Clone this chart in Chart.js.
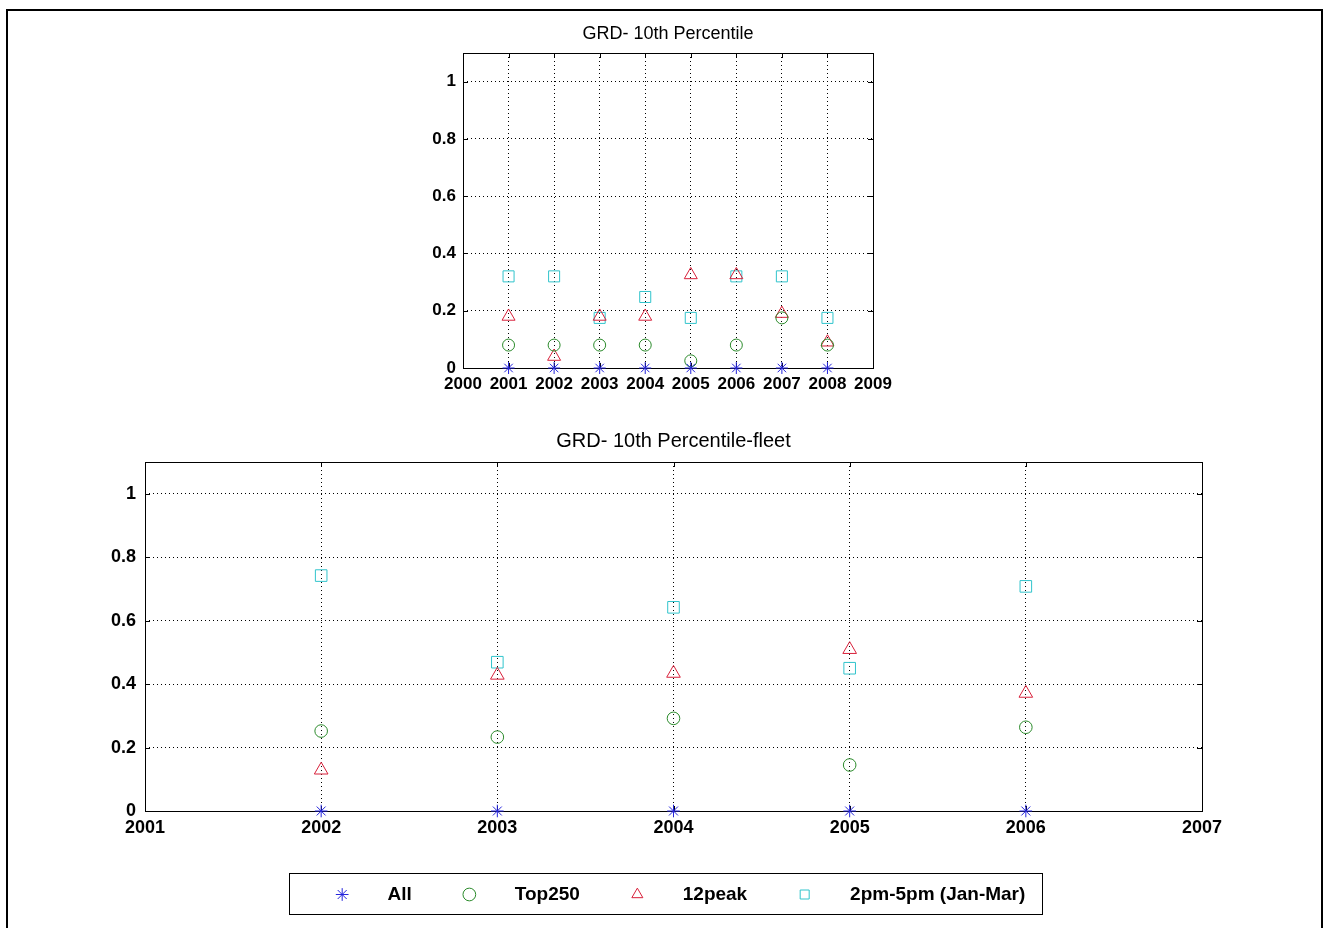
<!DOCTYPE html>
<html>
<head>
<meta charset="utf-8">
<title>GRD- 10th Percentile</title>
<script src="https://cdn.jsdelivr.net/npm/chart.js@4.4.1/dist/chart.umd.min.js"></script>
<style>
  html, body { margin: 0; background: #fff; overflow: hidden; }
  .box { position: absolute; }
  #frame { left: 6px; top: 9px; width: 1313px; height: 940px; border: 2px solid #000; border-bottom: none; }
  #topBox { left: 380px; top: 15px; width: 560px; height: 390px; }
  #fleetBox { left: 20px; top: 420px; width: 1292px; height: 421px; }
  #legendFrame { left: 289px; top: 873px; width: 752px; height: 40px; border: 1px solid #000; }
  #legendBox { left: 279px; top: 837px; width: 800px; height: 200px; }
</style>
</head>
<body>
<div id="frame" class="box"></div>
<div id="topBox" class="box"><canvas id="topChart"></canvas></div>
<div id="fleetBox" class="box"><canvas id="fleetChart"></canvas></div>
<div id="legendFrame" class="box"></div>
<div id="legendBox" class="box"><canvas id="legendChart"></canvas></div>
<script>
// series shared by both panels
const seriesNames = ['All', 'Top250', '12peak', '2pm-5pm (Jan-Mar)'];

// top panel: GRD- 10th Percentile
const topYears = [2001, 2002, 2003, 2004, 2005, 2006, 2007, 2008];
const topAll = [0, 0, 0, 0, 0, 0, 0, 0];
const topTop250 = [0.08, 0.08, 0.08, 0.08, 0.025, 0.08, 0.175, 0.08];
const topPeak = [0.18, 0.04, 0.18, 0.18, 0.325, 0.325, 0.19, 0.09];
const topAfternoon = [0.32, 0.32, 0.175, 0.248, 0.175, 0.32, 0.32, 0.175];
const topXTicks = [2000, 2001, 2002, 2003, 2004, 2005, 2006, 2007, 2008, 2009];

// bottom panel: GRD- 10th Percentile-fleet
const fleetYears = [2002, 2003, 2004, 2005, 2006];
const fleetAll = [0, 0, 0, 0, 0];
const fleetTop250 = [0.252, 0.233, 0.292, 0.145, 0.264];
const fleetPeak = [0.129, 0.428, 0.434, 0.509, 0.371];
const fleetAfternoon = [0.742, 0.469, 0.642, 0.45, 0.708];
const fleetXTicks = [2001, 2002, 2003, 2004, 2005, 2006, 2007];

const yTicks = [0, 0.2, 0.4, 0.6, 0.8, 1];

// marker styles (matlab * o ^ s)
const pointStyles = ['star', 'circle', 'triangle', 'rect'];
const colors = ['#2424dc', '#2a8a2a', '#d8203a', '#30c4cc'];
const radii = [6, 6, 7.5, 7.8];

Chart.defaults.font.family = '"Liberation Sans", Arial, sans-serif';
Chart.defaults.color = '#000';
Chart.defaults.animation = false;

function toPoints(xs, ys) {
  return xs.map((x, i) => ({ x: x, y: ys[i] }));
}

function makeDatasets(xs, seriesList, grow) {
  return seriesList.map((ys, i) => ({
    label: seriesNames[i],
    data: toPoints(xs, ys),
    showLine: false,
    clip: false,
    pointStyle: pointStyles[i],
    pointRadius: radii[i] * grow,
    pointHoverRadius: radii[i] * grow,
    pointBorderWidth: 1,
    pointBorderColor: colors[i],
    pointBackgroundColor: 'rgba(0,0,0,0)',
    borderColor: colors[i],
    backgroundColor: 'rgba(0,0,0,0)',
    borderWidth: 1
  }));
}

function axis(tickValues, min, max, fontSize, pad, fitKey, fitVal) {
  return {
    type: 'linear',
    min: min,
    max: max,
    grid: { color: '#000', lineWidth: 1, drawTicks: false, borderDash: [1, 3] },
    border: { display: false, dash: [1, 3] },
    ticks: {
      font: { size: fontSize, weight: 'bold' },
      color: '#000',
      padding: pad,
      callback: v => String(v)
    },
    afterBuildTicks: s => { s.ticks = tickValues.map(v => ({ value: v })); },
    afterFit: s => { s[fitKey] = fitVal; }
  };
}

// solid box round the axes with matlab style inward ticks
const matlabBox = {
  id: 'matlabBox',
  beforeDatasetsDraw(chart) {
    const { ctx, chartArea: a, scales } = chart;
    const x = scales.x, y = scales.y;
    ctx.save();
    ctx.strokeStyle = '#000';
    ctx.lineWidth = 1;
    ctx.setLineDash([]);
    ctx.strokeRect(Math.round(a.left) + 0.5, Math.round(a.top) + 0.5,
      Math.round(a.right - a.left), Math.round(a.bottom - a.top));
    ctx.beginPath();
    x.ticks.forEach(t => {
      const px = Math.round(x.getPixelForValue(t.value)) + 0.5;
      ctx.moveTo(px, a.bottom); ctx.lineTo(px, a.bottom - 5);
      ctx.moveTo(px, a.top); ctx.lineTo(px, a.top + 5);
    });
    y.ticks.forEach(t => {
      const py = Math.round(y.getPixelForValue(t.value)) + 0.5;
      ctx.moveTo(a.left, py); ctx.lineTo(a.left + 5, py);
      ctx.moveTo(a.right, py); ctx.lineTo(a.right - 5, py);
    });
    ctx.stroke();
    ctx.restore();
  }
};

function titleOpts(text, size, bottom) {
  return {
    display: true, text: text, fullSize: false, color: '#000',
    font: { size: size, weight: 'normal' },
    padding: { top: 0, bottom: bottom }
  };
}

new Chart(document.getElementById('topChart'), {
  type: 'scatter',
  data: { datasets: makeDatasets(topYears, [topAll, topTop250, topPeak, topAfternoon], 1) },
  options: {
    responsive: true,
    maintainAspectRatio: false,
    layout: { padding: { left: 43, right: 67, top: 8, bottom: 0 } },
    scales: {
      x: axis(topXTicks, 2000, 2009, 17, 6, 'height', 37),
      y: axis(yTicks, 0, 1.1, 17, 7, 'width', 40)
    },
    plugins: {
      legend: { display: false },
      tooltip: { enabled: false },
      title: titleOpts('GRD- 10th Percentile', 18, 8.4)
    }
  },
  plugins: [matlabBox]
});

new Chart(document.getElementById('fleetChart'), {
  type: 'scatter',
  data: { datasets: makeDatasets(fleetYears, [fleetAll, fleetTop250, fleetPeak, fleetAfternoon], 1.05) },
  options: {
    responsive: true,
    maintainAspectRatio: false,
    layout: { padding: { left: 85, right: 110, top: 9, bottom: 0 } },
    scales: {
      x: axis(fleetXTicks, 2001, 2007, 18, 6, 'height', 30),
      y: axis(yTicks, 0, 1.1, 18, 9, 'width', 40)
    },
    plugins: {
      legend: { display: false },
      tooltip: { enabled: false },
      title: titleOpts('GRD- 10th Percentile-fleet', 20, 9)
    }
  },
  plugins: [matlabBox]
});

// legend on its own, as in the matlab figure
new Chart(document.getElementById('legendChart'), {
  type: 'scatter',
  data: { datasets: makeDatasets([], [[], [], [], []], 1) },
  options: {
    responsive: true,
    maintainAspectRatio: false,
    scales: { x: { display: false }, y: { display: false } },
    plugins: {
      tooltip: { enabled: false },
      legend: {
        position: 'top',
        maxHeight: 180,
        labels: {
          usePointStyle: true,
          boxHeight: 9,
          color: '#000',
          font: { size: 19, weight: 'bold' },
          padding: 48,
          generateLabels: chart => Chart.defaults.plugins.legend.labels.generateLabels(chart)
            .map(item => Object.assign(item, { text: '     ' + item.text }))
        }
      }
    }
  }
});
</script>
</body>
</html>
